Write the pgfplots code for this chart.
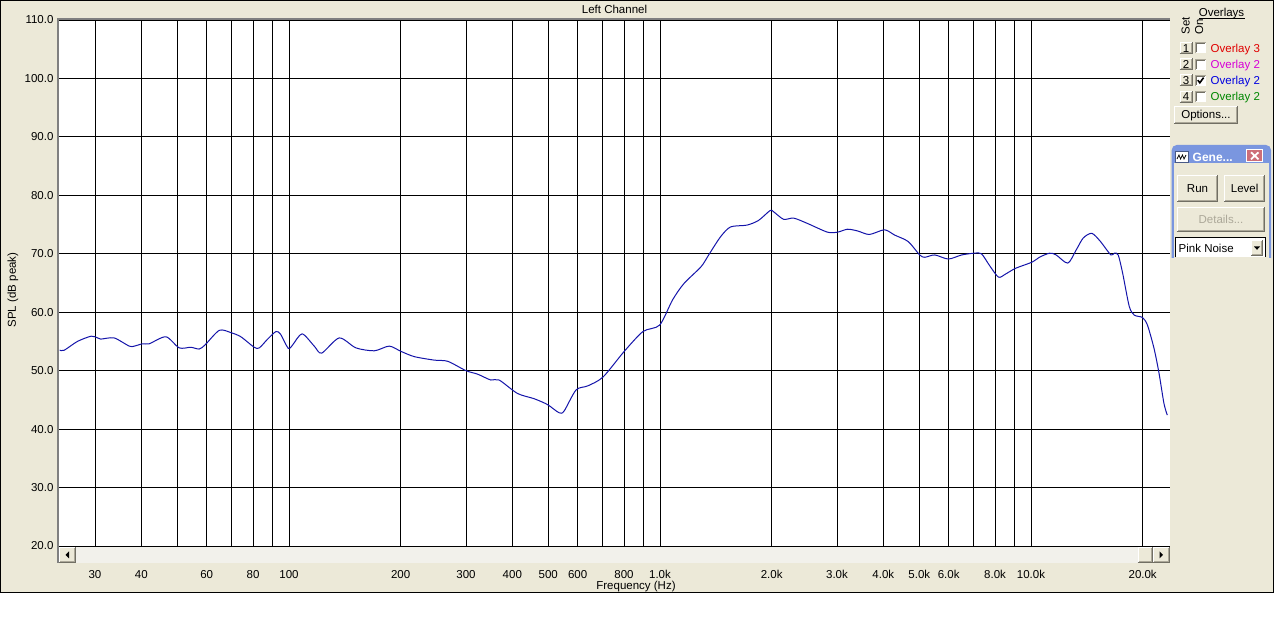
\documentclass[border=0pt]{standalone}
\usepackage{pgfplots}
\pgfplotsset{compat=1.18}
\usepackage{fontspec}
\setmainfont{Liberation Sans}
\definecolor{winbg}{RGB}{236,233,216}
\definecolor{btnsh}{RGB}{172,168,153}
\definecolor{btndk}{RGB}{113,111,100}
\definecolor{curvec}{RGB}{20,20,170}
\definecolor{framec}{RGB}{128,128,128}
\definecolor{sbar}{RGB}{242,241,235}
\definecolor{ttl}{RGB}{122,150,223}
\definecolor{ovred}{RGB}{225,0,0}
\definecolor{ovmag}{RGB}{215,0,215}
\definecolor{ovblue}{RGB}{0,0,225}
\definecolor{ovgreen}{RGB}{0,135,0}
\definecolor{closec}{RGB}{205,110,120}
\newcommand\uif{\fontsize{11.5}{13}\selectfont}
\newcommand\btn[4]{%
 \fill[winbg] (#1,#2) rectangle (#3,#4);
 \draw[white, line width=1pt] (#1+0.5,#4-1) -- (#1+0.5,#2+0.5) -- (#3-1,#2+0.5);
 \draw[btndk, line width=1pt] (#1,#4-0.5) -- (#3-0.5,#4-0.5) -- (#3-0.5,#2);
 \draw[btnsh, line width=1pt] (#1+1,#4-1.5) -- (#3-1.5,#4-1.5) -- (#3-1.5,#2+1);
}
\newcommand\chk[2]{%
 \fill[white] (#1,#2) rectangle (#1+11,#2+11);
 \draw[btnsh, line width=1pt] (#1+0.5,#2+11) -- (#1+0.5,#2+0.5) -- (#1+11,#2+0.5);
 \draw[btndk, line width=1pt] (#1+1.5,#2+10) -- (#1+1.5,#2+1.5) -- (#1+10,#2+1.5);
}
\pgfplotstableread{
f dB
24.1 53.5
24.8 53.5
26.9 55.0
29.3 55.9
30.5 55.6
31.1 55.4
33.8 55.6
37.1 54.2
38.3 54.2
40.3 54.6
42.0 54.6
46.6 55.8
50.6 53.9
54.4 54.0
57.3 53.7
59.4 54.4
64.9 56.9
69.8 56.5
74.2 55.8
80.6 54.0
83.2 53.9
87.6 55.4
92.3 56.7
95.0 56.2
99.6 53.8
102.3 54.4
108.5 56.3
117.0 54.2
122.5 53.0
136.6 55.6
151.5 53.9
169.9 53.4
186.3 54.2
200.4 53.3
217.7 52.4
246.7 51.8
268 51.6
300 50.0
322.5 49.4
350 48.4
368.6 48.4
413 46.1
458 45.2
497.5 44.2
534.5 42.8
551.7 43.1
594 46.7
639 47.4
702 48.9
801 53.3
900 56.7
998 57.8
1081 62.1
1160 64.9
1291 67.8
1356 69.9
1456 72.9
1550 74.6
1715 74.9
1843 75.7
1981 77.4
2023 77.2
2154 75.9
2293 76.1
2495 75.2
2827 73.7
3010 73.7
3204 74.2
3413 73.9
3667 73.3
4029 74.1
4291 73.2
4664 72.1
5013 69.8
5173 69.4
5505 69.8
5986 69.1
6505 69.8
7035 70.1
7354 70.0
7750 67.9
8172 66.0
8524 66.5
9078 67.5
10090 68.6
10530 69.4
11220 70.1
11690 69.8
12570 68.4
13250 70.7
13830 72.7
14590 73.5
15390 72.1
16410 69.8
16770 70.1
17180 69.8
17660 66.7
18400 61.0
18990 59.5
19970 59.1
20600 57.8
21460 53.8
22130 49.6
22820 44.4
23300 42.4
}\curvedata
\begin{document}
\begin{tikzpicture}[x=1pt,y=1pt]
\useasboundingbox (0,0) rectangle (1274,637);
\fill[white] (0,0) rectangle (1274,637);
\begin{scope}[yshift=637pt,yscale=-1]
 \fill[winbg] (0,0) rectangle (1274,592.5);
 \fill[white] (59,20) rectangle (1170,546);
\end{scope}
\begin{axis}[at={(59pt,91pt)}, anchor=south west, scale only axis,
 width=1111pt, height=526pt,
 xmode=log, xmin=24, xmax=23700, ymin=20, ymax=110,
 xtick={30,40,60,80,100,200,300,400,500,600,800,1000,2000,3000,4000,5000,6000,8000,10000,20000},
 xticklabels={30,40,60,80,100,200,300,400,500,600,800,1.0k,2.0k,3.0k,4.0k,5.0k,6.0k,8.0k,10.0k,20.0k},
 extra x ticks={50,70,90,700,900,7000,9000},
 extra x tick labels={},
 extra tick style={grid=major},
 minor x tick num=0,
 ytick={20,30,40,50,60,70,80,90,100,110},
 yticklabels={20.0,30.0,40.0,50.0,60.0,70.0,80.0,90.0,100.0,110.0},
 grid=major, major grid style={black, line width=0.9pt},
 major tick length=0pt, minor tick length=0pt,
 axis line style={draw=none},
 tick label style={font=\uif, text=black},
 /pgf/number format/assume math mode=true,
 xticklabel style={yshift=-21pt},
 yticklabel style={xshift=-2pt},
 clip=true]
\addplot[curvec, line width=1pt, smooth, tension=0.45] table[x=f,y=dB] {\curvedata};
\pgfplotsinvokeforeach{30,40,50,60,70,80,90,100,200,300,400,500,600,700,800,900,1000,2000,3000,4000,5000,6000,7000,8000,9000,10000,20000}{
 \draw[black, line width=0.9pt] (axis cs:#1,20) ++(0,-17.5pt) -- ++(0,-3.5pt);
}
\end{axis}
\begin{scope}[yshift=637pt,yscale=-1]
 % scrollbar
 \fill[sbar] (59,546.6) rectangle (1169.5,563);
 \btn{59}{546.6}{75.5}{563}
 \fill[black] (65.5,554.8) -- (69,551.3) -- (69,558.3) -- cycle;
 \btn{1137.5}{546.6}{1153}{563}
 \btn{1153}{546.6}{1169.5}{563}
 \fill[black] (1163,554.8) -- (1159.5,551.3) -- (1159.5,558.3) -- cycle;
 % plot frame
 \draw[framec, line width=2pt] (58.2,563) -- (58.2,19.2) -- (1170,19.2);
 % window border
 \draw[black, line width=1pt] (0.5,0.5) rectangle (1273.5,592.5);
 % texts
 \node[font=\uif, anchor=base] at (614.5,14) {Left Channel};
 \node[font=\uif, anchor=base] at (636,589.5) {Frequency (Hz)};
 \node[font=\uif, anchor=base, rotate=90] at (15.8,290) {SPL (dB peak)};
 % overlays panel
 \node[font=\uif, anchor=base] at (1221.5,17) {Overlays};
 \draw[black, line width=0.8pt] (1198.5,18.8) -- (1244.5,18.8);
 \node[font=\uif, anchor=base west, rotate=90, inner sep=0pt] at (1189.5,34.3) {Set};
 \node[font=\uif, anchor=base west, rotate=90, inner sep=0pt] at (1203,34.3) {On};
 \foreach \i/\t/\c [count=\k from 0] in {1/Overlay 3/ovred, 2/Overlay 2/ovmag, 3/Overlay 2/ovblue, 4/Overlay 2/ovgreen}{
  \pgfmathsetmacro\yy{42+16.2*\k}
  \btn{1179.5}{\yy}{1192.5}{\yy+12}
  \node[font=\uif, anchor=base] at (1186,\yy+10.3) {\i};
  \chk{1195}{\yy+0.5}
  \node[font=\uif, anchor=base west, inner sep=0pt, text=\c] at (1210.5,\yy+10.3) {\t};
 }
 \draw[black, line width=1.6pt] (1197.8,80.2) -- (1199.8,82.8) -- (1203.6,77.6);
 \btn{1174.3}{106.5}{1238}{124}
 \node[font=\uif, anchor=base] at (1206,118.8) {Options...};
 % generator window
 \fill[ttl] (1171.7,258) -- (1171.7,150) arc (180:270:5) -- (1266,145) arc (270:360:5) -- (1271,258) -- cycle;
 \fill[winbg] (1173.5,163.5) rectangle (1269.3,258);
 \fill[white] (1175.5,151.5) rectangle (1188.5,162.5);
 \draw[ttl!60!black, line width=0.8pt] (1175.5,151.5) rectangle (1188.5,162.5);
 \draw[black, line width=0.7pt] (1177,159) -- (1179,155) -- (1180.5,159) -- (1182.5,155) -- (1184,159) -- (1186,155);
 \node[font=\fontsize{12}{14}\selectfont\bfseries, text=white, anchor=base west, inner sep=0pt] at (1192.5,161.5) {Gene...};
 \fill[closec] (1246.7,149.8) rectangle (1262.7,161.8);
 \draw[white, line width=0.8pt] (1246.7,149.8) rectangle (1262.7,161.8);
 \draw[white, line width=1.8pt] (1251,152.3) -- (1258.5,159.3) (1258.5,152.3) -- (1251,159.3);
 \btn{1177}{175}{1218.3}{202.3}
 \node[font=\uif, anchor=base] at (1197.5,193) {Run};
 \btn{1224.3}{175}{1265}{202.3}
 \node[font=\uif, anchor=base] at (1244.6,193) {Level};
 \btn{1176.7}{206.7}{1265}{231.7}
 \node[font=\uif, anchor=base, text=btnsh] at (1221,223.5) {Details...};
 \fill[white] (1175.7,237.3) rectangle (1265,257.5);
 \draw[black, line width=1pt] (1175.7,257.5) -- (1175.7,237.3) -- (1265,237.3) -- (1265,257.5);
 \node[font=\uif, anchor=base west, inner sep=0pt] at (1178.5,252.5) {Pink Noise};
 \btn{1251}{240}{1263}{256}
 \fill[black] (1254,246.5) -- (1260,246.5) -- (1257,249.8) -- cycle;
\end{scope}
\end{tikzpicture}
\end{document}
